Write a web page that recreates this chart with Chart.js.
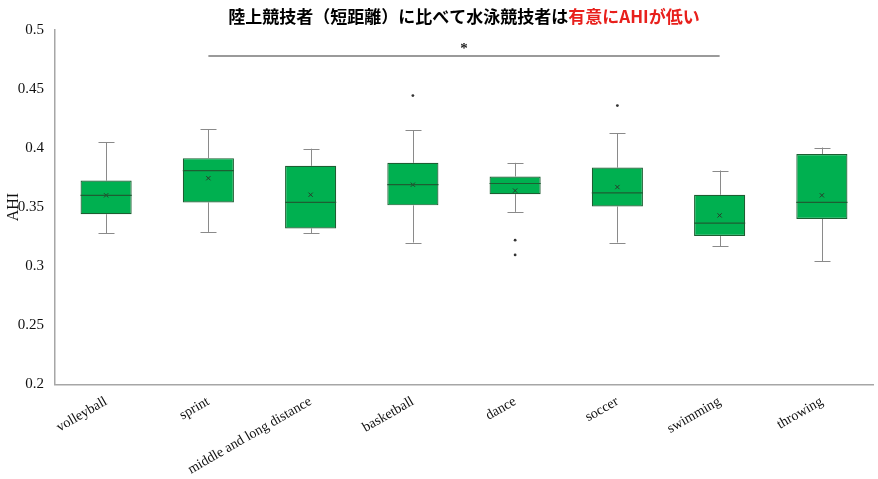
<!DOCTYPE html>
<html>
<head>
<meta charset="utf-8">
<script src="https://cdn.jsdelivr.net/npm/chart.js@4"></script>
<style>
  html, body { margin: 0; padding: 0; background: #fff; }
  #wrap { width: 878px; height: 479px; }
</style>
</head>
<body>
<div id="wrap"><canvas id="c"></canvas></div>
<script>
// data
const categories = ['volleyball', 'sprint', 'middle and long distance', 'basketball', 'dance', 'soccer', 'swimming', 'throwing'];
const whiskerMin = [0.328, 0.329, 0.328, 0.320, 0.346, 0.320, 0.317, 0.304];
const q1        = [0.344, 0.354, 0.332, 0.3515, 0.361, 0.3505, 0.3255, 0.340];
const median    = [0.360, 0.381, 0.354, 0.369, 0.370, 0.362, 0.3365, 0.354];
const q3        = [0.3725, 0.3915, 0.385, 0.3875, 0.376, 0.3835, 0.3605, 0.395];
const whiskerMax = [0.405, 0.416, 0.3995, 0.415, 0.3875, 0.4125, 0.381, 0.4005];
const means     = [0.360, 0.3745, 0.3605, 0.369, 0.364, 0.367, 0.343, 0.360];
const outlierCats = ['basketball', 'dance', 'dance', 'soccer'];
const outlierVals = [0.4445, 0.322, 0.3095, 0.436];
const yTicks = [0.2, 0.25, 0.3, 0.35, 0.4, 0.45, 0.5];
const sigPair = ['sprint', 'swimming'];
const sigLevel = 0.478;
const titleBlack = '陸上競技者（短距離）に比べて水泳競技者は';
const titleRed = '有意にAHIが低い';

const serif = '"Liberation Serif", "DejaVu Serif", serif';
const jp = '"Noto Sans CJK JP", "Noto Sans", sans-serif';

// whiskers, medians, significance bar, title
const boxExtras = {
  id: 'boxExtras',
  beforeDatasetsDraw(chart) {
    const { ctx, scales: { x, y } } = chart;
    ctx.save();
    ctx.strokeStyle = '#8a8a8a';
    ctx.lineWidth = 1;
    const cap = 8;
    categories.forEach((c, i) => {
      const px = Math.round(x.getPixelForValue(i)) + 0.5;
      const top = y.getPixelForValue(whiskerMax[i]);
      const bot = y.getPixelForValue(whiskerMin[i]);
      ctx.beginPath();
      ctx.moveTo(px, top); ctx.lineTo(px, y.getPixelForValue(q3[i]));
      ctx.moveTo(px, bot); ctx.lineTo(px, y.getPixelForValue(q1[i]));
      ctx.moveTo(px - cap, Math.round(top) + 0.5); ctx.lineTo(px + cap, Math.round(top) + 0.5);
      ctx.moveTo(px - cap, Math.round(bot) + 0.5); ctx.lineTo(px + cap, Math.round(bot) + 0.5);
      ctx.stroke();
    });
    ctx.restore();
  },
  afterDatasetsDraw(chart) {
    const { ctx, scales: { x, y } } = chart;
    const meta = chart.getDatasetMeta(0);
    ctx.save();
    ctx.strokeStyle = '#1d5e32';
    ctx.lineWidth = 1.2;
    meta.data.forEach((bar, i) => {
      const w = bar.width / 2;
      const py = y.getPixelForValue(median[i]);
      ctx.beginPath();
      ctx.moveTo(bar.x - w, py); ctx.lineTo(bar.x + w, py);
      ctx.stroke();
    });
    ctx.restore();
  },
  afterDraw(chart) {
    const { ctx, chartArea, scales: { x, y } } = chart;
    ctx.save();
    // significance bar
    const x1 = x.getPixelForValue(categories.indexOf(sigPair[0]));
    const x2 = x.getPixelForValue(categories.indexOf(sigPair[1]));
    const sy = y.getPixelForValue(sigLevel);
    ctx.strokeStyle = '#9a9a9a';
    ctx.lineWidth = 2;
    ctx.beginPath(); ctx.moveTo(x1, sy); ctx.lineTo(x2, sy); ctx.stroke();
    ctx.fillStyle = '#222';
    ctx.font = 'bold 15px ' + serif;
    ctx.textAlign = 'center';
    ctx.textBaseline = 'alphabetic';
    ctx.fillText('*', (x1 + x2) / 2, sy - 3);
    // two-colour title
    ctx.font = 'bold 17px ' + jp;
    ctx.textAlign = 'left';
    ctx.textBaseline = 'middle';
    const wb = ctx.measureText(titleBlack).width;
    const wr = ctx.measureText(titleRed).width;
    const cx = (chartArea.left + chartArea.right) / 2;
    let tx = cx - (wb + wr) / 2;
    ctx.fillStyle = '#000';
    ctx.fillText(titleBlack, tx, 17);
    ctx.fillStyle = '#e8201c';
    ctx.fillText(titleRed, tx + wb, 17);
    ctx.restore();
  }
};

new Chart(document.getElementById('c'), {
  data: {
    labels: categories,
    datasets: [
      {
        type: 'bar',
        data: categories.map((c, i) => [q1[i], q3[i]]),
        backgroundColor: '#00b050',
        borderColor: '#1d5e32',
        borderWidth: 1.2,
        borderSkipped: false,
        barPercentage: 0.5,
        categoryPercentage: 1.0,
        order: 2
      },
      {
        type: 'line',
        data: means,
        showLine: false,
        pointStyle: 'crossRot',
        pointRadius: 3,
        pointBorderColor: '#2a3a2a',
        pointBorderWidth: 1,
        order: 1
      },
      {
        type: 'line',
        data: outlierCats.map((c, i) => ({ x: c, y: outlierVals[i] })),
        showLine: false,
        pointStyle: 'circle',
        pointRadius: 1.4,
        pointBackgroundColor: '#333',
        pointBorderColor: '#333',
        pointBorderWidth: 0,
        order: 0
      }
    ]
  },
  options: {
    responsive: true,
    maintainAspectRatio: false,
    animation: false,
    layout: { padding: { top: 30, right: 5, left: 4, bottom: 0 } },
    plugins: {
      legend: { display: false },
      tooltip: { enabled: false },
      title: { display: false }
    },
    scales: {
      x: {
        type: 'category',
        grid: { display: false },
        border: { display: true, color: '#a6a6a6', width: 1.5 },
        ticks: {
          color: '#111',
          font: { family: serif, size: 14 },
          minRotation: 30,
          maxRotation: 30,
          padding: 1,
          autoSkip: false
        }
      },
      y: {
        min: 0.2,
        max: 0.5,
        afterBuildTicks(s) { s.ticks = yTicks.map(v => ({ value: v })); },
        afterFit(s) { s.width = 51; },
        grid: { display: false },
        border: { display: true, color: '#a6a6a6', width: 1.5 },
        ticks: {
          color: '#111',
          font: { family: serif, size: 15 },
          padding: 3,
          callback: v => String(+v.toFixed(2))
        },
        title: {
          display: true,
          text: 'AHI',
          color: '#111',
          font: { family: serif, size: 16 },
          padding: 0
        }
      }
    }
  },
  plugins: [boxExtras]
});
</script>
</body>
</html>
